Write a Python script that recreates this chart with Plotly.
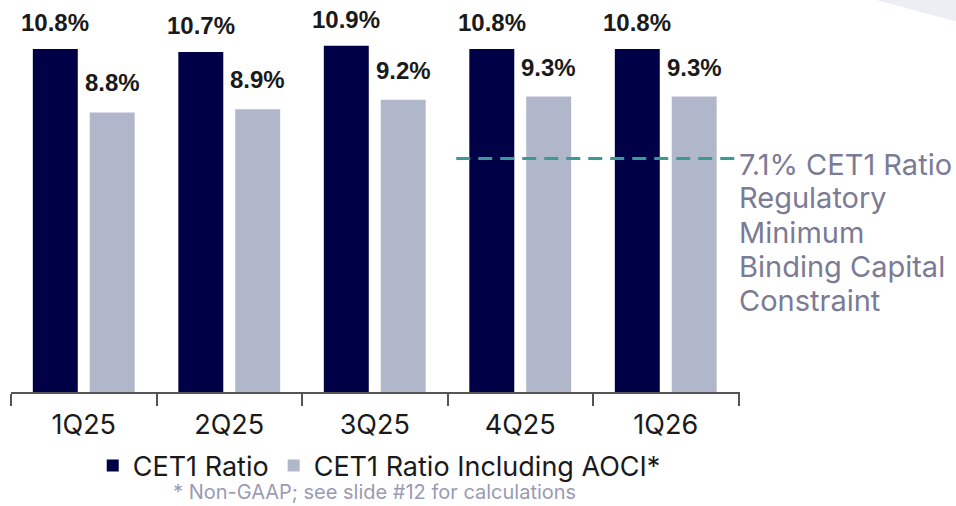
import plotly.graph_objects as go

quarters = ["1Q25", "2Q25", "3Q25", "4Q25", "1Q26"]
cet1 = [10.8, 10.7, 10.9, 10.8, 10.8]
cet1_aoci = [8.8, 8.9, 9.2, 9.3, 9.3]
min_level = 7.35  # dashed reference line position as drawn
min_label_lines = ["7.1% CET1 Ratio", "Regulatory", "Minimum", "Binding Capital", "Constraint"]
series_names = ["CET1 Ratio", "CET1 Ratio Including AOCI*"]
footnote = "* Non-GAAP; see slide #12 for calculations"

DARK = "#000046"
LIGHT = "#b1b7cb"
TEAL = "#3c9a94"
GRAYTXT = "#7b7b96"
FONT = "Inter"

PLOT_H = 392

fig = go.Figure()
fig.add_bar(x=quarters, y=cet1, name=series_names[0], marker_color=DARK,
            marker_line_width=0)
fig.add_bar(x=quarters, y=cet1_aoci, name=series_names[1], marker_color=LIGHT,
            marker_line_width=0)

for i, q in enumerate(quarters):
    fig.add_annotation(x=q, y=cet1[i], text=f"<b>{cet1[i]:.1f}%</b>", showarrow=False,
                       xshift=-28.5, yshift=11, yanchor="bottom",
                       font=dict(family="Liberation Sans", size=24, color="#1a1a1a"))
    fig.add_annotation(x=q, y=cet1_aoci[i], text=f"<b>{cet1_aoci[i]:.1f}%</b>", showarrow=False,
                       xshift=28.5, yshift=14, yanchor="bottom",
                       font=dict(family="Liberation Sans", size=24, color="#1a1a1a"))

# dashed regulatory minimum line spanning last two categories
fig.add_shape(type="line", xref="x", yref="y", x0=2.56, x1=4.5, y0=min_level, y1=min_level,
              line=dict(color=TEAL, width=3, dash="14px,8px"))

for j, line in enumerate(min_label_lines):
    py = 164 + 34 * j
    fig.add_annotation(xref="paper", yref="paper", x=0.996, y=(PLOT_H - py) / PLOT_H,
                       xanchor="left", yanchor="middle", align="left", text=line, showarrow=False,
                       font=dict(family=FONT, size=29, color=GRAYTXT))

fig.add_annotation(xref="paper", yref="paper", x=0.499, y=(PLOT_H - 492) / PLOT_H,
                   xanchor="center", yanchor="middle",
                   text=footnote, showarrow=False,
                   font=dict(family=FONT, size=20, color="#9a9ab4"))

# decorative corner shape
fig.add_shape(type="path", xref="paper", yref="paper", layer="below",
              path="M 1.187 1.0 L 1.297 1.0 L 1.297 0.945 Z",
              fillcolor="#eceef4", line_width=0)

fig.update_layout(
    width=956, height=506,
    margin=dict(l=11, r=216, t=0, b=114, autoexpand=False),
    paper_bgcolor="white", plot_bgcolor="white",
    barmode="group", bargap=0.218, bargroupgap=0.21,
    showlegend=True,
    legend=dict(orientation="h", xref="container", yref="container",
                x=0.097, y=1 - 466 / 506, xanchor="left", yanchor="middle",
                font=dict(family=FONT, size=27, color="#1a1a1a"),
                tracegroupgap=0, itemsizing="constant", itemwidth=30),
    xaxis=dict(showline=True, linecolor="#555555", linewidth=1.5,
               ticks="outside", tickson="boundaries", ticklen=12, tickcolor="#555555",
               tickwidth=1.5, ticklabelstandoff=8,
               tickfont=dict(family=FONT, size=27, color="#1a1a1a"),
               showgrid=False, zeroline=False, automargin=False),
    yaxis=dict(range=[0, 12.34], visible=False, showgrid=False, zeroline=False),
)

fig.write_html("out.html")
